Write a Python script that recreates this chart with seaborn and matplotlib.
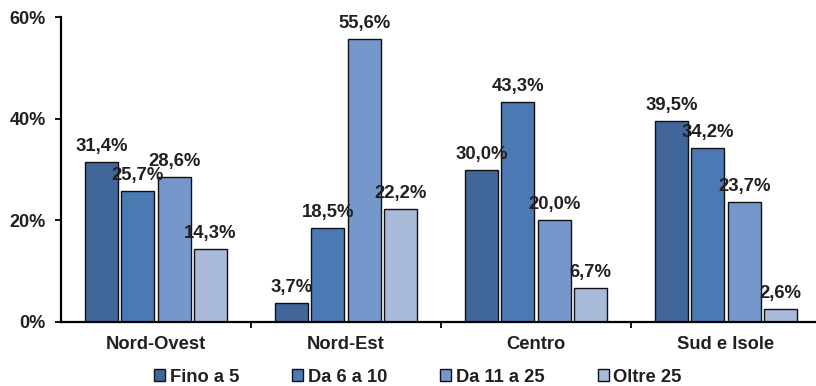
import matplotlib
matplotlib.use("Agg")
import matplotlib.pyplot as plt
from matplotlib.patches import Patch
from matplotlib.ticker import FixedLocator, PercentFormatter
import pandas as pd
import seaborn as sns

# Ripartizione per area geografica e classe dimensionale
aree = ["Nord-Ovest", "Nord-Est", "Centro", "Sud e Isole"]
classi = ["Fino a 5", "Da 6 a 10", "Da 11 a 25", "Oltre 25"]
fino_a_5 = [31.4, 3.7, 30.0, 39.5]
da_6_a_10 = [25.7, 18.5, 43.3, 34.2]
da_11_a_25 = [28.6, 55.6, 20.0, 23.7]
oltre_25 = [14.3, 22.2, 6.7, 2.6]
y_ticks = [0, 20, 40, 60]

colori = ["#41679A", "#4A79B4", "#7597CB", "#A9BAD9"]

serie = [fino_a_5, da_6_a_10, da_11_a_25, oltre_25]
df = pd.DataFrame(
    [(a, c, v[i]) for c, v in zip(classi, serie) for i, a in enumerate(aree)],
    columns=["area", "classe", "valore"],
)

sns.set_theme(style="white")
plt.rcParams["font.family"] = ["Liberation Sans", "DejaVu Sans"]
plt.rcParams["font.weight"] = "bold"
testo = "#231F20"

fig = plt.figure(figsize=(8.16, 3.86), dpi=100)
ax = fig.add_axes([61 / 816, 64 / 386, 760 / 816, 305 / 386])

sns.barplot(
    data=df, x="area", y="valore", hue="classe", order=aree, hue_order=classi,
    palette=colori, width=0.764, gap=0.09, edgecolor="#111111", linewidth=1.0,
    saturation=1, legend=False, ax=ax,
)

for cont in ax.containers:
    ax.bar_label(
        cont, labels=[f"{b.get_height():.1f}%".replace(".", ",") for b in cont],
        padding=5, fontsize=13.3, fontweight="bold", color=testo,
    )

ax.set_xlim(-0.5, 3.5)
ax.set_ylim(0, 60)
ax.set_yticks(y_ticks)
ax.yaxis.set_major_formatter(PercentFormatter(decimals=0))
ax.set_xlabel("")
ax.set_ylabel("")

for s in ["top", "right"]:
    ax.spines[s].set_visible(False)
for s in ["left", "bottom"]:
    ax.spines[s].set_color("black")
    ax.spines[s].set_linewidth(1.6)

ax.tick_params(axis="y", which="major", direction="out", length=4, width=1.3,
               color="black", pad=7, labelsize=13, labelcolor=testo, left=True)
ax.tick_params(axis="x", which="major", length=0, pad=10, labelsize=13.2,
               labelcolor=testo)
ax.xaxis.set_minor_locator(FixedLocator([0.5, 1.5, 2.5]))
ax.tick_params(axis="x", which="minor", direction="out", length=4, width=1.3,
               color="black", bottom=True)
for lab in ax.get_xticklabels() + ax.get_yticklabels():
    lab.set_fontweight("bold")

handles = [Patch(facecolor=c, edgecolor="#111111", linewidth=1.0) for c in colori]
fig.legend(
    handles, classi, loc="center", bbox_to_anchor=(418 / 816, 9 / 386),
    ncol=4, frameon=False, handlelength=0.6, handleheight=0.6,
    handletextpad=0.25, columnspacing=2.9, labelcolor=testo,
    prop={"weight": "bold", "size": 13.2},
)

fig.savefig("out.png", dpi=100)
